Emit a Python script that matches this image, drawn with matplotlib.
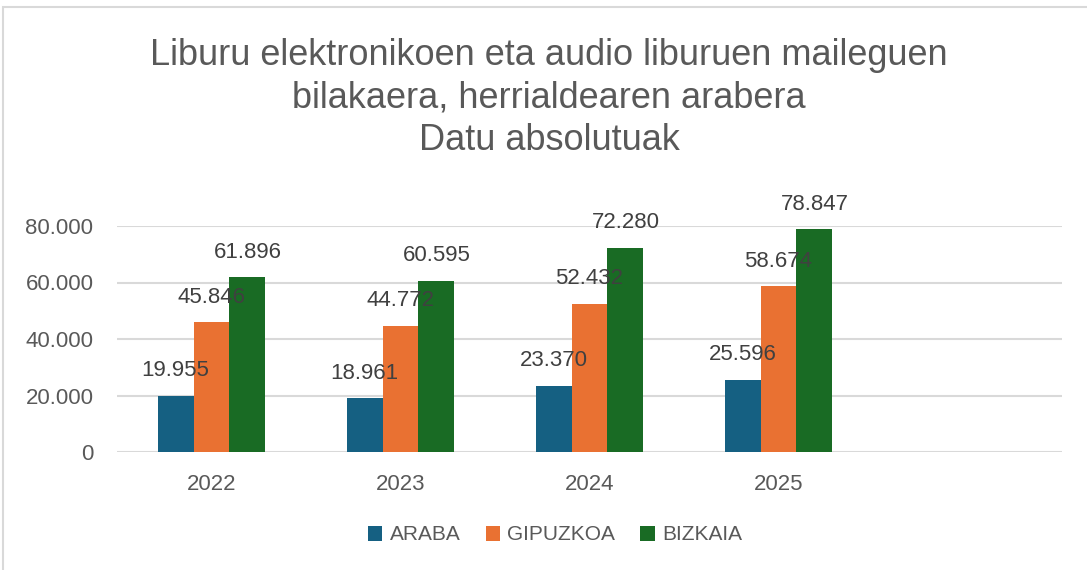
import numpy as np
import matplotlib.pyplot as plt
from matplotlib.patches import Rectangle

years = ["2022", "2023", "2024", "2025"]
araba = [19955, 18961, 23370, 25596]
gipuzkoa = [45846, 44772, 52432, 58674]
bizkaia = [61896, 60595, 72280, 78847]
series_names = ["ARABA", "GIPUZKOA", "BIZKAIA"]
colors = ["#156082", "#E97132", "#196B24"]

plt.rcParams['font.family'] = ['Liberation Sans', 'DejaVu Sans']


def dots(v):
    # thousands separator as a dot
    return f"{v:,.0f}".replace(",", ".")


fig = plt.figure(figsize=(10.87, 5.70), dpi=100)
fig.patches.append(Rectangle((3 / 1087, -0.1), 1.2, 1 - 7 / 570 + 0.1,
                             transform=fig.transFigure, fill=False,
                             edgecolor="#D9D9D9", linewidth=1.5))

ax = fig.add_axes([117 / 1087, 1 - 452 / 570, 945 / 1087, 226 / 570])

x = np.arange(len(years))
w = 0.19
for i, (vals, name, c) in enumerate(zip([araba, gipuzkoa, bizkaia], series_names, colors)):
    pos = x + (i - 1) * w
    ax.bar(pos, vals, width=w, color=c, label=name, zorder=2)
    for p, v in zip(pos, vals):
        ax.annotate(dots(v), (p, v), xytext=(0, 25), textcoords="offset pixels",
                    ha="center", va="center", fontsize=16, color="#404040",
                    zorder=4, annotation_clip=False)

ax.set_xlim(-0.5, 4.5)
ax.set_ylim(0, 80000)
ax.set_yticks(np.arange(0, 80001, 20000))
ax.set_yticklabels([dots(v) for v in np.arange(0, 80001, 20000)])
ax.set_xticks(x)
ax.set_xticklabels(years)
ax.tick_params(axis="both", length=0, labelsize=16, colors="#595959")
ax.tick_params(axis="y", pad=17)
ax.tick_params(axis="x", pad=16)
ax.grid(axis="y", color="#D9D9D9", linewidth=1.5, zorder=0)
for s in ax.spines.values():
    s.set_visible(False)
ax.set_axisbelow(True)

fig.text(549 / 1087, 1 - 98 / 570,
         "Liburu elektronikoen eta audio liburuen maileguen\n"
         "bilakaera, herrialdearen arabera\nDatu absolutuak",
         ha="center", va="center", fontsize=26, color="#595959",
         linespacing=1.27)

fig.legend(loc="center", bbox_to_anchor=(555 / 1087, 1 - 535 / 570), ncol=3,
           frameon=False, fontsize=15, labelcolor="#595959",
           handlelength=0.7, handleheight=0.7, handletextpad=0.35,
           columnspacing=1.2)

fig.savefig("out.png", dpi=100)
